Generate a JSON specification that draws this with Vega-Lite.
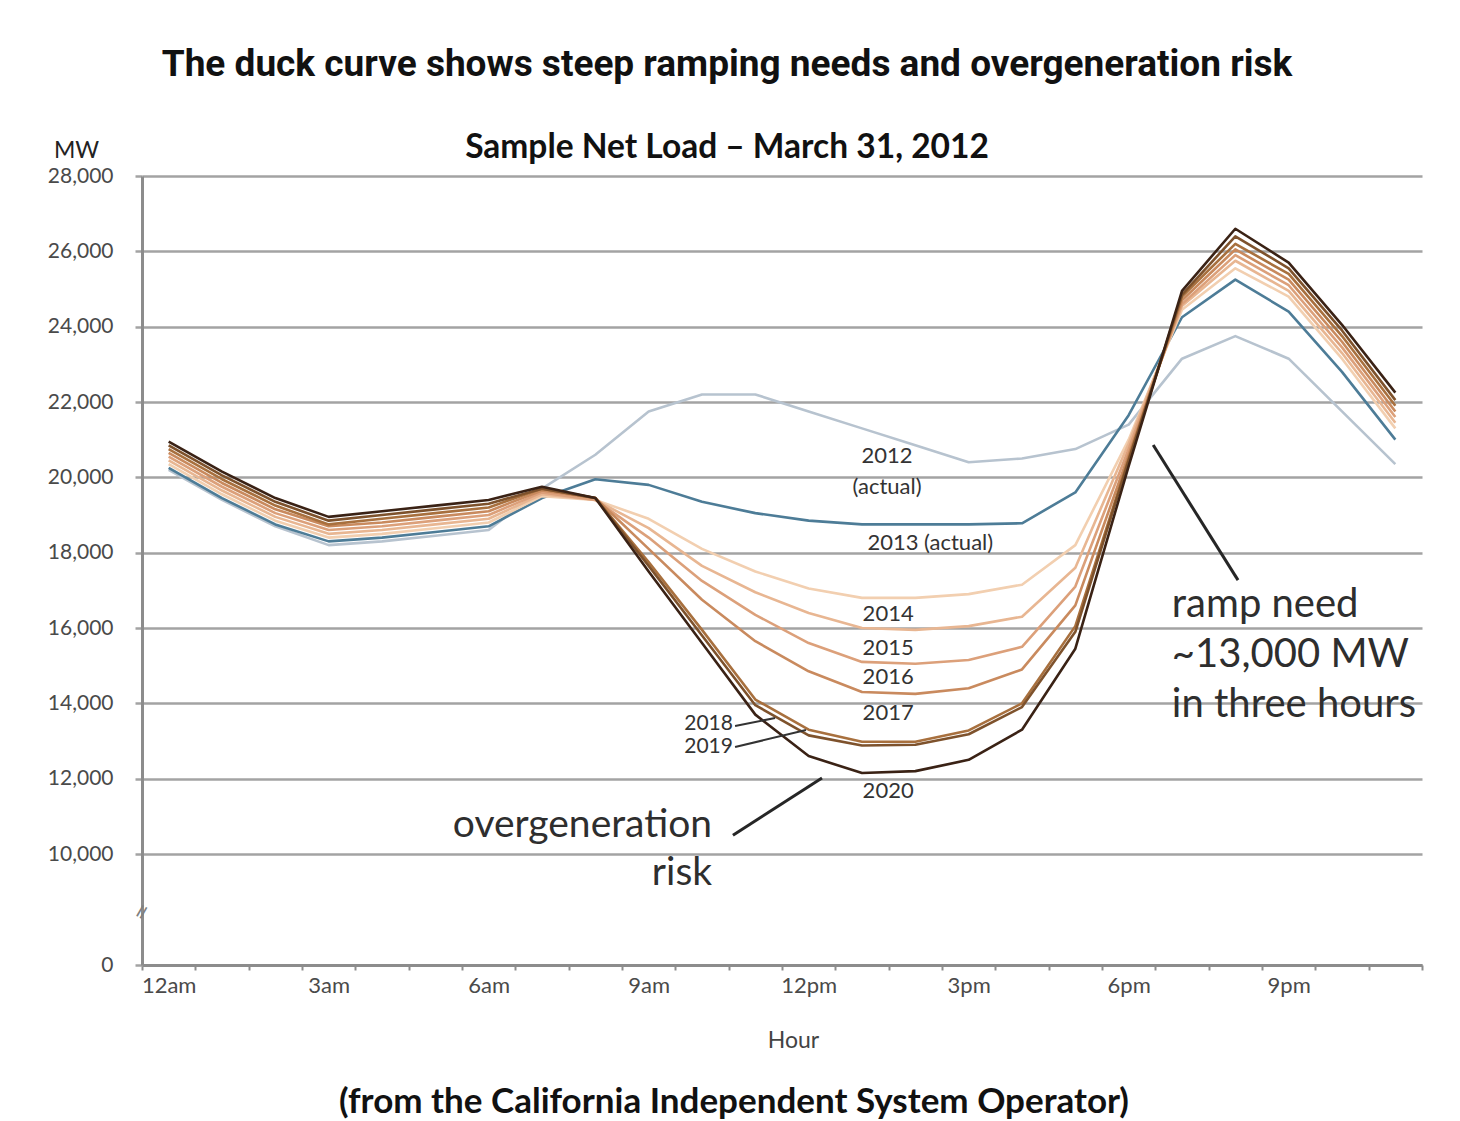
{
  "$schema": "https://vega.github.io/schema/vega-lite/v6.json",
  "width": 1280,
  "height": 789,
  "autosize": {"type": "none"},
  "padding": {"left": 142, "top": 176, "right": 38, "bottom": 156},
  "background": "white",
  "config": {"view": {"stroke": null}},
  "title": {
    "text": "The duck curve shows steep ramping needs and overgeneration risk",
    "subtitle": "Sample Net Load – March 31, 2012",
    "anchor": "middle",
    "frame": "group",
    "dx": -55,
    "offset": -26,
    "font": "Roboto",
    "fontSize": 37,
    "fontWeight": "bold",
    "color": "#111111",
    "subtitleFont": "Lato",
    "subtitleFontSize": 33.5,
    "subtitleFontWeight": "bold",
    "subtitleColor": "#111111",
    "subtitlePadding": 48
  },
  "datasets": {
    "load": [
      {"year": "2012", "hour": 0, "mw": 20200}, {"year": "2012", "hour": 1, "mw": 19400}, {"year": "2012", "hour": 2, "mw": 18700}, {"year": "2012", "hour": 3, "mw": 18200}, {"year": "2012", "hour": 4, "mw": 18300}, {"year": "2012", "hour": 5, "mw": 18450}, {"year": "2012", "hour": 6, "mw": 18600}, {"year": "2012", "hour": 7, "mw": 19700}, {"year": "2012", "hour": 8, "mw": 20600}, {"year": "2012", "hour": 9, "mw": 21750}, {"year": "2012", "hour": 10, "mw": 22200}, {"year": "2012", "hour": 11, "mw": 22200}, {"year": "2012", "hour": 12, "mw": 21750}, {"year": "2012", "hour": 13, "mw": 21300}, {"year": "2012", "hour": 14, "mw": 20850}, {"year": "2012", "hour": 15, "mw": 20400}, {"year": "2012", "hour": 16, "mw": 20500}, {"year": "2012", "hour": 17, "mw": 20750}, {"year": "2012", "hour": 18, "mw": 21400}, {"year": "2012", "hour": 19, "mw": 23150}, {"year": "2012", "hour": 20, "mw": 23750}, {"year": "2012", "hour": 21, "mw": 23150}, {"year": "2012", "hour": 22, "mw": 21750}, {"year": "2012", "hour": 23, "mw": 20350},
      {"year": "2013", "hour": 0, "mw": 20250}, {"year": "2013", "hour": 1, "mw": 19450}, {"year": "2013", "hour": 2, "mw": 18750}, {"year": "2013", "hour": 3, "mw": 18300}, {"year": "2013", "hour": 4, "mw": 18400}, {"year": "2013", "hour": 5, "mw": 18550}, {"year": "2013", "hour": 6, "mw": 18700}, {"year": "2013", "hour": 7, "mw": 19450}, {"year": "2013", "hour": 8, "mw": 19950}, {"year": "2013", "hour": 9, "mw": 19800}, {"year": "2013", "hour": 10, "mw": 19350}, {"year": "2013", "hour": 11, "mw": 19050}, {"year": "2013", "hour": 12, "mw": 18850}, {"year": "2013", "hour": 13, "mw": 18750}, {"year": "2013", "hour": 14, "mw": 18750}, {"year": "2013", "hour": 15, "mw": 18750}, {"year": "2013", "hour": 16, "mw": 18780}, {"year": "2013", "hour": 17, "mw": 19600}, {"year": "2013", "hour": 18, "mw": 21650}, {"year": "2013", "hour": 19, "mw": 24250}, {"year": "2013", "hour": 20, "mw": 25250}, {"year": "2013", "hour": 21, "mw": 24400}, {"year": "2013", "hour": 22, "mw": 22800}, {"year": "2013", "hour": 23, "mw": 21000},
      {"year": "2014", "hour": 0, "mw": 20350}, {"year": "2014", "hour": 1, "mw": 19550}, {"year": "2014", "hour": 2, "mw": 18850}, {"year": "2014", "hour": 3, "mw": 18400}, {"year": "2014", "hour": 4, "mw": 18500}, {"year": "2014", "hour": 5, "mw": 18650}, {"year": "2014", "hour": 6, "mw": 18800}, {"year": "2014", "hour": 7, "mw": 19500}, {"year": "2014", "hour": 8, "mw": 19400}, {"year": "2014", "hour": 9, "mw": 18900}, {"year": "2014", "hour": 10, "mw": 18100}, {"year": "2014", "hour": 11, "mw": 17500}, {"year": "2014", "hour": 12, "mw": 17050}, {"year": "2014", "hour": 13, "mw": 16800}, {"year": "2014", "hour": 14, "mw": 16800}, {"year": "2014", "hour": 15, "mw": 16900}, {"year": "2014", "hour": 16, "mw": 17150}, {"year": "2014", "hour": 17, "mw": 18200}, {"year": "2014", "hour": 18, "mw": 21000}, {"year": "2014", "hour": 19, "mw": 24450}, {"year": "2014", "hour": 20, "mw": 25550}, {"year": "2014", "hour": 21, "mw": 24800}, {"year": "2014", "hour": 22, "mw": 23150}, {"year": "2014", "hour": 23, "mw": 21300},
      {"year": "2015", "hour": 0, "mw": 20450}, {"year": "2015", "hour": 1, "mw": 19650}, {"year": "2015", "hour": 2, "mw": 18950}, {"year": "2015", "hour": 3, "mw": 18500}, {"year": "2015", "hour": 4, "mw": 18600}, {"year": "2015", "hour": 5, "mw": 18750}, {"year": "2015", "hour": 6, "mw": 18900}, {"year": "2015", "hour": 7, "mw": 19550}, {"year": "2015", "hour": 8, "mw": 19400}, {"year": "2015", "hour": 9, "mw": 18650}, {"year": "2015", "hour": 10, "mw": 17650}, {"year": "2015", "hour": 11, "mw": 16950}, {"year": "2015", "hour": 12, "mw": 16400}, {"year": "2015", "hour": 13, "mw": 16000}, {"year": "2015", "hour": 14, "mw": 15950}, {"year": "2015", "hour": 15, "mw": 16050}, {"year": "2015", "hour": 16, "mw": 16300}, {"year": "2015", "hour": 17, "mw": 17600}, {"year": "2015", "hour": 18, "mw": 20900}, {"year": "2015", "hour": 19, "mw": 24550}, {"year": "2015", "hour": 20, "mw": 25750}, {"year": "2015", "hour": 21, "mw": 24950}, {"year": "2015", "hour": 22, "mw": 23300}, {"year": "2015", "hour": 23, "mw": 21450},
      {"year": "2016", "hour": 0, "mw": 20550}, {"year": "2016", "hour": 1, "mw": 19750}, {"year": "2016", "hour": 2, "mw": 19050}, {"year": "2016", "hour": 3, "mw": 18600}, {"year": "2016", "hour": 4, "mw": 18700}, {"year": "2016", "hour": 5, "mw": 18850}, {"year": "2016", "hour": 6, "mw": 19000}, {"year": "2016", "hour": 7, "mw": 19600}, {"year": "2016", "hour": 8, "mw": 19400}, {"year": "2016", "hour": 9, "mw": 18400}, {"year": "2016", "hour": 10, "mw": 17250}, {"year": "2016", "hour": 11, "mw": 16350}, {"year": "2016", "hour": 12, "mw": 15600}, {"year": "2016", "hour": 13, "mw": 15100}, {"year": "2016", "hour": 14, "mw": 15050}, {"year": "2016", "hour": 15, "mw": 15150}, {"year": "2016", "hour": 16, "mw": 15500}, {"year": "2016", "hour": 17, "mw": 17100}, {"year": "2016", "hour": 18, "mw": 20750}, {"year": "2016", "hour": 19, "mw": 24600}, {"year": "2016", "hour": 20, "mw": 25900}, {"year": "2016", "hour": 21, "mw": 25100}, {"year": "2016", "hour": 22, "mw": 23450}, {"year": "2016", "hour": 23, "mw": 21600},
      {"year": "2017", "hour": 0, "mw": 20650}, {"year": "2017", "hour": 1, "mw": 19850}, {"year": "2017", "hour": 2, "mw": 19150}, {"year": "2017", "hour": 3, "mw": 18700}, {"year": "2017", "hour": 4, "mw": 18800}, {"year": "2017", "hour": 5, "mw": 18950}, {"year": "2017", "hour": 6, "mw": 19100}, {"year": "2017", "hour": 7, "mw": 19650}, {"year": "2017", "hour": 8, "mw": 19450}, {"year": "2017", "hour": 9, "mw": 18100}, {"year": "2017", "hour": 10, "mw": 16750}, {"year": "2017", "hour": 11, "mw": 15650}, {"year": "2017", "hour": 12, "mw": 14850}, {"year": "2017", "hour": 13, "mw": 14300}, {"year": "2017", "hour": 14, "mw": 14250}, {"year": "2017", "hour": 15, "mw": 14400}, {"year": "2017", "hour": 16, "mw": 14900}, {"year": "2017", "hour": 17, "mw": 16600}, {"year": "2017", "hour": 18, "mw": 20600}, {"year": "2017", "hour": 19, "mw": 24700}, {"year": "2017", "hour": 20, "mw": 26050}, {"year": "2017", "hour": 21, "mw": 25250}, {"year": "2017", "hour": 22, "mw": 23600}, {"year": "2017", "hour": 23, "mw": 21750},
      {"year": "2018", "hour": 0, "mw": 20750}, {"year": "2018", "hour": 1, "mw": 19950}, {"year": "2018", "hour": 2, "mw": 19250}, {"year": "2018", "hour": 3, "mw": 18750}, {"year": "2018", "hour": 4, "mw": 18900}, {"year": "2018", "hour": 5, "mw": 19050}, {"year": "2018", "hour": 6, "mw": 19200}, {"year": "2018", "hour": 7, "mw": 19700}, {"year": "2018", "hour": 8, "mw": 19450}, {"year": "2018", "hour": 9, "mw": 17750}, {"year": "2018", "hour": 10, "mw": 15950}, {"year": "2018", "hour": 11, "mw": 14100}, {"year": "2018", "hour": 12, "mw": 13300}, {"year": "2018", "hour": 13, "mw": 12980}, {"year": "2018", "hour": 14, "mw": 12980}, {"year": "2018", "hour": 15, "mw": 13280}, {"year": "2018", "hour": 16, "mw": 14000}, {"year": "2018", "hour": 17, "mw": 16050}, {"year": "2018", "hour": 18, "mw": 20500}, {"year": "2018", "hour": 19, "mw": 24800}, {"year": "2018", "hour": 20, "mw": 26200}, {"year": "2018", "hour": 21, "mw": 25400}, {"year": "2018", "hour": 22, "mw": 23750}, {"year": "2018", "hour": 23, "mw": 21900},
      {"year": "2019", "hour": 0, "mw": 20850}, {"year": "2019", "hour": 1, "mw": 20050}, {"year": "2019", "hour": 2, "mw": 19350}, {"year": "2019", "hour": 3, "mw": 18850}, {"year": "2019", "hour": 4, "mw": 19000}, {"year": "2019", "hour": 5, "mw": 19150}, {"year": "2019", "hour": 6, "mw": 19300}, {"year": "2019", "hour": 7, "mw": 19700}, {"year": "2019", "hour": 8, "mw": 19450}, {"year": "2019", "hour": 9, "mw": 17650}, {"year": "2019", "hour": 10, "mw": 15800}, {"year": "2019", "hour": 11, "mw": 13950}, {"year": "2019", "hour": 12, "mw": 13150}, {"year": "2019", "hour": 13, "mw": 12880}, {"year": "2019", "hour": 14, "mw": 12900}, {"year": "2019", "hour": 15, "mw": 13180}, {"year": "2019", "hour": 16, "mw": 13900}, {"year": "2019", "hour": 17, "mw": 15900}, {"year": "2019", "hour": 18, "mw": 20450}, {"year": "2019", "hour": 19, "mw": 24850}, {"year": "2019", "hour": 20, "mw": 26400}, {"year": "2019", "hour": 21, "mw": 25550}, {"year": "2019", "hour": 22, "mw": 23900}, {"year": "2019", "hour": 23, "mw": 22050},
      {"year": "2020", "hour": 0, "mw": 20950}, {"year": "2020", "hour": 1, "mw": 20150}, {"year": "2020", "hour": 2, "mw": 19450}, {"year": "2020", "hour": 3, "mw": 18950}, {"year": "2020", "hour": 4, "mw": 19100}, {"year": "2020", "hour": 5, "mw": 19250}, {"year": "2020", "hour": 6, "mw": 19400}, {"year": "2020", "hour": 7, "mw": 19750}, {"year": "2020", "hour": 8, "mw": 19450}, {"year": "2020", "hour": 9, "mw": 17500}, {"year": "2020", "hour": 10, "mw": 15600}, {"year": "2020", "hour": 11, "mw": 13700}, {"year": "2020", "hour": 12, "mw": 12600}, {"year": "2020", "hour": 13, "mw": 12150}, {"year": "2020", "hour": 14, "mw": 12200}, {"year": "2020", "hour": 15, "mw": 12500}, {"year": "2020", "hour": 16, "mw": 13300}, {"year": "2020", "hour": 17, "mw": 15450}, {"year": "2020", "hour": 18, "mw": 20300}, {"year": "2020", "hour": 19, "mw": 24950}, {"year": "2020", "hour": 20, "mw": 26600}, {"year": "2020", "hour": 21, "mw": 25700}, {"year": "2020", "hour": 22, "mw": 24050}, {"year": "2020", "hour": 23, "mw": 22250}
    ],
    "callouts": [
      {"hour": 18.46, "mw": 20860, "hour2": 20.05, "mw2": 17270},
      {"hour": 10.58, "mw": 10500, "hour2": 12.25, "mw2": 12020}
    ],
    "yearPointers": [
      {"hour": 10.62, "mw": 13400, "hour2": 11.37, "mw2": 13610},
      {"hour": 10.62, "mw": 12840, "hour2": 11.95, "mw2": 13290}
    ],
    "yearLabels": [
      {"label": "2012", "hour": 13.47, "mw": 20570},
      {"label": "(actual)", "hour": 13.47, "mw": 19740},
      {"label": "2013 (actual)", "hour": 14.28, "mw": 18260},
      {"label": "2014", "hour": 13.49, "mw": 16370},
      {"label": "2015", "hour": 13.49, "mw": 15470},
      {"label": "2016", "hour": 13.49, "mw": 14700},
      {"label": "2017", "hour": 13.49, "mw": 13740},
      {"label": "2020", "hour": 13.49, "mw": 11670}
    ],
    "sideLabels": [
      {"label": "2018", "hour": 10.58, "mw": 13450},
      {"label": "2019", "hour": 10.58, "mw": 12840}
    ],
    "riskNote": [
      {"label": "overgeneration", "hour": 10.19, "mw": 10770},
      {"label": "risk", "hour": 10.19, "mw": 8290}
    ],
    "rampNote": [
      {"label": "ramp need", "hour": 18.81, "mw": 16610},
      {"label": "~13,000 MW", "hour": 18.81, "mw": 15280},
      {"label": "in three hours", "hour": 18.81, "mw": 13960}
    ],
    "source": [
      {"label": "(from the California Independent System Operator)", "hour": 10.6, "mw": -12340}
    ],
    "axisBreak": [
      {"label": "=", "hour": -0.5, "mw": 4780}
    ]
  },
  "encoding": {
    "x": {
      "field": "hour",
      "type": "quantitative",
      "scale": {"domain": [-0.5, 23.5], "nice": false, "zero": false},
      "axis": {
        "title": "Hour",
        "titleFont": "Lato",
        "titleFontSize": 23,
        "titleFontWeight": "normal",
        "titleColor": "#444444",
        "titleX": 651,
        "titleY": 75,
        "titleAlign": "center",
        "titleBaseline": "middle",
        "values": [-0.5, 0.5, 1.5, 2.5, 3.5, 4.5, 5.5, 6.5, 7.5, 8.5, 9.5, 10.5, 11.5, 12.5, 13.5, 14.5, 15.5, 16.5, 17.5, 18.5, 19.5, 20.5, 21.5, 22.5, 23.5],
        "labelExpr": "(datum.value + 0.5) % 3 == 0 && datum.value < 23 ? ((datum.value + 0.5) == 0 ? '12am' : (datum.value + 0.5) < 12 ? (datum.value + 0.5) + 'am' : (datum.value + 0.5) == 12 ? '12pm' : (datum.value + 0.5 - 12) + 'pm') : ''",
        "labelOffset": 26.67,
        "labelOverlap": false,
        "labelBound": false,
        "labelFlush": false,
        "labelFont": "Lato",
        "labelFontSize": 22,
        "labelColor": "#4a4a4a",
        "labelPadding": 5,
        "grid": false,
        "tickSize": 5,
        "tickWidth": 2,
        "tickColor": "#8c8c8c",
        "domainColor": "#8c8c8c",
        "domainWidth": 3
      }
    },
    "y": {
      "field": "mw",
      "type": "quantitative",
      "scale": {"domain": [0, 10000, 28000], "range": [789, 678, 0], "nice": false, "zero": false},
      "axis": {
        "title": "MW",
        "titleAngle": 0,
        "titleX": -66,
        "titleY": -26,
        "titleAlign": "center",
        "titleBaseline": "middle",
        "titleFont": "Lato",
        "titleFontSize": 23,
        "titleFontWeight": "normal",
        "titleColor": "#222222",
        "values": [0, 10000, 12000, 14000, 16000, 18000, 20000, 22000, 24000, 26000, 28000],
        "format": ",d",
        "labelFont": "Lato",
        "labelFontSize": 21,
        "labelColor": "#4a4a4a",
        "labelPadding": 22,
        "tickSize": 7,
        "tickWidth": 2.5,
        "tickColor": "#a3a3a3",
        "domainColor": "#8c8c8c",
        "domainWidth": 3,
        "grid": true,
        "gridColor": "#a3a3a3",
        "gridWidth": 2.5
      }
    }
  },
  "layer": [
    {
      "data": {"name": "load"},
      "mark": {"type": "line", "strokeWidth": 2.6, "strokeJoin": "round"},
      "encoding": {
        "color": {
          "field": "year",
          "type": "nominal",
          "scale": {
            "domain": ["2012", "2013", "2014", "2015", "2016", "2017", "2018", "2019", "2020"],
            "range": ["#b7c3cf", "#4d7c97", "#f2cfb0", "#e8b692", "#dca07a", "#c98a5e", "#a8703e", "#7e522c", "#3a2215"]
          },
          "legend": null
        }
      }
    },
    {
      "data": {"name": "callouts"},
      "mark": {"type": "rule", "color": "#262626", "strokeWidth": 3},
      "encoding": {"x2": {"field": "hour2"}, "y2": {"field": "mw2"}}
    },
    {
      "data": {"name": "yearPointers"},
      "mark": {"type": "rule", "color": "#333333", "strokeWidth": 2},
      "encoding": {"x2": {"field": "hour2"}, "y2": {"field": "mw2"}}
    },
    {
      "data": {"name": "yearLabels"},
      "mark": {"type": "text", "font": "Lato", "fontSize": 22, "color": "#333333", "align": "center", "baseline": "middle"},
      "encoding": {"text": {"field": "label"}}
    },
    {
      "data": {"name": "sideLabels"},
      "mark": {"type": "text", "font": "Lato", "fontSize": 21, "color": "#333333", "align": "right", "baseline": "middle"},
      "encoding": {"text": {"field": "label"}}
    },
    {
      "data": {"name": "riskNote"},
      "mark": {"type": "text", "font": "Lato", "fontSize": 39, "color": "#2e2e2e", "align": "right", "baseline": "middle"},
      "encoding": {"text": {"field": "label"}}
    },
    {
      "data": {"name": "rampNote"},
      "mark": {"type": "text", "font": "Lato", "fontSize": 40, "color": "#2e2e2e", "align": "left", "baseline": "middle"},
      "encoding": {"text": {"field": "label"}}
    },
    {
      "data": {"name": "source"},
      "mark": {"type": "text", "font": "Lato", "fontSize": 35, "fontWeight": "bold", "color": "#111111", "align": "center", "baseline": "middle"},
      "encoding": {"text": {"field": "label"}}
    },
    {
      "data": {"name": "axisBreak"},
      "mark": {"type": "text", "font": "DejaVu Sans", "fontSize": 20, "color": "#808080", "align": "center", "baseline": "middle", "angle": 300},
      "encoding": {"text": {"field": "label"}}
    }
  ]
}
